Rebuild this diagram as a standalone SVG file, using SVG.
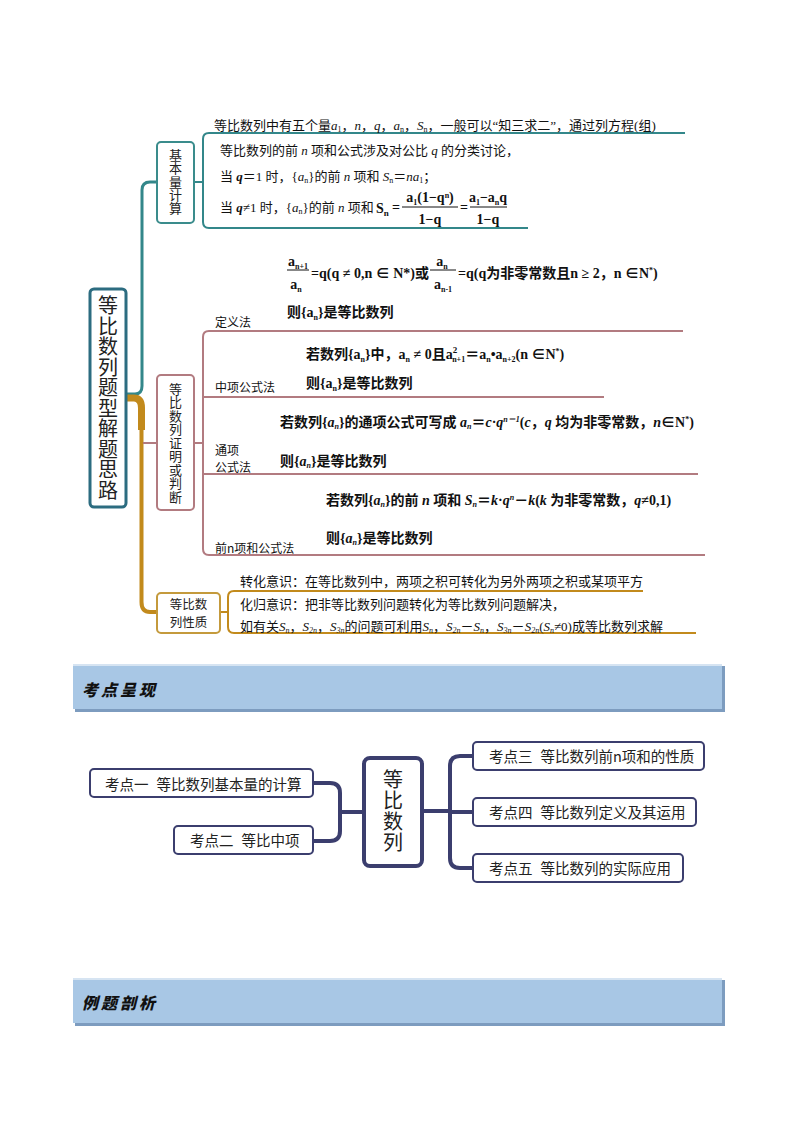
<svg xmlns="http://www.w3.org/2000/svg" width="794" height="1123" viewBox="0 0 794 1123">
<style>
.t{font-family:"Liberation Serif","Noto Sans CJK SC",serif;font-size:13px;fill:#111}
.m{font-family:"Liberation Serif","Noto Sans CJK SC",serif;font-size:14px;font-weight:bold;fill:#111}
.lb{font-family:"Noto Sans CJK SC",sans-serif;font-size:12px;fill:#111}
.bx{font-family:"Noto Sans CJK SC",sans-serif;font-size:12.5px;fill:#222;text-anchor:middle}
.v{writing-mode:vertical-rl;text-anchor:middle;font-family:"Noto Sans CJK SC",sans-serif;fill:#222}
.i{font-style:italic}
.k{font-family:"Noto Sans CJK SC",sans-serif;font-size:14.5px;fill:#222}
.hd{font-family:"Noto Sans CJK SC",sans-serif;font-size:16px;font-weight:900;font-style:italic;letter-spacing:3px;fill:#111}
.teal{fill:none;stroke:#33878a;stroke-width:2}
.mar{fill:none;stroke:#b27b80;stroke-width:2}
.gold{fill:none;stroke:#c28a1c;stroke-width:2}
.navy{fill:none;stroke:#3b3e6e;stroke-width:4}
.nb{fill:#fff;stroke:#3b3e6e;stroke-width:2}
.fr{stroke:#111;stroke-width:1}
</style>

<g id="connectors">
  <path d="M126,394 L135,394 Q142,394 142,386 L142,190 Q142,182 150,182 L157,182" fill="none" stroke="#33878a" stroke-width="3"/>
  <path d="M126,398 L134,398 Q141.5,398 141.5,408 L141.5,430" fill="none" stroke="#c28a1c" stroke-width="7"/>
  <path d="M141.5,410 L141.5,602 Q141.5,612 150,612 L157,612" fill="none" stroke="#c28a1c" stroke-width="4"/>
  <path d="M143,443 L157,443" class="mar"/>
  <path d="M194,182 L203,182" class="teal"/>
  <path d="M685,133 L209,133 Q203,133 203,139 L203,222 Q203,228 209,228 L528,228" class="teal"/>
  <path d="M194,443 L203,443" class="mar"/>
  <path d="M683,331 L209,331 Q203,331 203,337 L203,549 Q203,555 209,555 L705,555" class="mar"/>
  <path d="M203,397 L604,397" class="mar"/>
  <path d="M203,474 L698,474" class="mar"/>
  <path d="M220,612 L228,612" class="gold"/>
  <path d="M643,591 L234,591 Q228,591 228,597 L228,627 Q228,633 234,633 L696,633" class="gold"/>
  <path d="M313,783 L330,783 Q340,783 340,793 L340,831 Q340,841 330,841 L313,841" class="navy"/>
  <path d="M340,812 L363,812" class="navy"/>
  <path d="M423,811 L450,811" class="navy"/>
  <path d="M473,756 L460,756 Q450,756 450,766 L450,858 Q450,868 460,868 L473,868" class="navy"/>
  <path d="M450,812 L473,812" class="navy"/>
</g>

<g id="main">
  <rect x="90" y="289" width="36" height="218" rx="4" fill="#fff" stroke="#2c6c80" stroke-width="3"/>
  <text class="v" x="108" y="398" font-size="20" letter-spacing="0.5">等比数列题型解题思路</text>
</g>

<g id="jibenliang">
  <rect x="157" y="142" width="37" height="81" rx="4" fill="#fff" stroke="#3a8c8c" stroke-width="2"/>
  <text class="v" x="175.5" y="182" font-size="13" letter-spacing="0.3">基本量计算</text>
  <text class="t" x="214" y="130">等比数列中有五个量<tspan class="i">a</tspan><tspan font-size="8" baseline-shift="-2">1</tspan>，<tspan class="i">n</tspan>，<tspan class="i">q</tspan>，<tspan class="i">a</tspan><tspan font-size="8" baseline-shift="-2">n</tspan>，<tspan class="i">S</tspan><tspan font-size="8" baseline-shift="-2">n</tspan>，一般可以“知三求二”，通过列方程(组)</text>
  <text class="t" x="220" y="155">等比数列的前 <tspan class="i">n</tspan> 项和公式涉及对公比 <tspan class="i">q</tspan> 的分类讨论，</text>
  <text class="t" x="220" y="181">当 <tspan class="i" font-weight="bold">q</tspan>＝1 时，{<tspan class="i">a</tspan><tspan font-size="8" baseline-shift="-2">n</tspan>}的前 <tspan class="i">n</tspan> 项和 <tspan class="i">S</tspan><tspan font-size="8" baseline-shift="-2">n</tspan>＝<tspan class="i">na</tspan><tspan font-size="8" baseline-shift="-2">1</tspan>；</text>
  <text class="t" x="220" y="212">当 <tspan class="i" font-weight="bold">q</tspan>≠1 时，{<tspan class="i">a</tspan><tspan font-size="8" baseline-shift="-2">n</tspan>}的前 <tspan class="i">n</tspan> 项和</text>
  <text class="m" x="376" y="213">S<tspan font-size="9" baseline-shift="-3">n</tspan></text>
  <text class="m" x="392" y="212">=</text>
  <text class="m" x="430" y="202" text-anchor="middle" font-size="12">a<tspan font-size="8" baseline-shift="-3">1</tspan>(1−q<tspan font-size="8" baseline-shift="4">n</tspan>)</text>
  <line class="fr" x1="402" y1="207" x2="458" y2="207"/>
  <text class="m" x="430" y="224" text-anchor="middle" font-size="12">1−q</text>
  <text class="m" x="460" y="212">=</text>
  <text class="m" x="488" y="202" text-anchor="middle" font-size="12">a<tspan font-size="8" baseline-shift="-3">1</tspan>−a<tspan font-size="8" baseline-shift="-3">n</tspan>q</text>
  <line class="fr" x1="470" y1="207" x2="507" y2="207"/>
  <text class="m" x="488" y="224" text-anchor="middle" font-size="12">1−q</text>
</g>

<g id="zhengming">
  <rect x="157" y="375" width="37" height="135" rx="4" fill="#fff" stroke="#b27b80" stroke-width="2"/>
  <text class="v" x="175.5" y="443" font-size="13" letter-spacing="0.5">等比数列证明或判断</text>
</g>

<g id="dingyi">
  <text class="lb" x="215" y="327">定义法</text>
  <text class="m" x="298" y="266" text-anchor="middle" font-size="12">a<tspan font-size="8" baseline-shift="-3">n+1</tspan></text>
  <line class="fr" x1="287" y1="270" x2="309" y2="270"/>
  <text class="m" x="296" y="289" text-anchor="middle" font-size="12">a<tspan font-size="8" baseline-shift="-3">n</tspan></text>
  <text class="m" x="311" y="278">=q(q ≠ 0,n ∈ N*)或</text>
  <text class="m" x="442" y="266" text-anchor="middle" font-size="12">a<tspan font-size="8" baseline-shift="-3">n</tspan></text>
  <line class="fr" x1="430" y1="270" x2="456" y2="270"/>
  <text class="m" x="443" y="289" text-anchor="middle" font-size="12">a<tspan font-size="8" baseline-shift="-3">n-1</tspan></text>
  <text class="m" x="458" y="278">=q(q为非零常数且n ≥ 2，n ∈N<tspan font-size="8" baseline-shift="5">*</tspan>)</text>
  <text class="m" x="287" y="317">则{a<tspan font-size="8" baseline-shift="-3">n</tspan>}是等比数列</text>
</g>

<g id="zhongxiang">
  <text class="lb" x="215" y="392">中项公式法</text>
  <text class="m" x="306" y="359">若数列{a<tspan font-size="8" baseline-shift="-3">n</tspan>}中，a<tspan font-size="8" baseline-shift="-3">n</tspan> ≠ 0且a<tspan font-size="9" baseline-shift="6">2</tspan><tspan font-size="8" dx="-5" baseline-shift="-3">n+1</tspan>＝a<tspan font-size="8" baseline-shift="-3">n</tspan>•a<tspan font-size="8" baseline-shift="-3">n+2</tspan>(n ∈N<tspan font-size="8" baseline-shift="5">*</tspan>)</text>
  <text class="m" x="306" y="388">则{a<tspan font-size="8" baseline-shift="-3">n</tspan>}是等比数列</text>
</g>

<g id="tongxiang">
  <text class="lb" x="215" y="455" font-size="11.5">通项</text>
  <text class="lb" x="215" y="472" font-size="11.5">公式法</text>
  <text class="m" x="280" y="427" font-weight="normal">若数列{<tspan class="i">a</tspan><tspan font-size="8" baseline-shift="-2" class="i">n</tspan>}的通项公式可写成 <tspan class="i" font-weight="bold">a</tspan><tspan font-size="8" baseline-shift="-2" class="i">n</tspan>＝<tspan class="i" font-weight="bold">c</tspan>·<tspan class="i" font-weight="bold">q</tspan><tspan font-size="8" baseline-shift="5" class="i">n－1</tspan><tspan font-weight="bold">(<tspan class="i">c</tspan>，<tspan class="i">q</tspan> 均为非零常数，<tspan class="i">n</tspan>∈N<tspan font-size="8" baseline-shift="5">*</tspan>)</tspan></text>
  <text class="m" x="280" y="466" font-weight="normal">则{<tspan class="i">a</tspan><tspan font-size="8" baseline-shift="-2" class="i">n</tspan>}是等比数列</text>
</g>

<g id="qiannhe">
  <text class="lb" x="215" y="553">前n项和公式法</text>
  <text class="m" x="326" y="505" font-weight="normal">若数列{<tspan class="i">a</tspan><tspan font-size="8" baseline-shift="-2" class="i">n</tspan>}的前 <tspan class="i" font-weight="bold">n</tspan> 项和 <tspan class="i" font-weight="bold">S</tspan><tspan font-size="8" baseline-shift="-2" class="i">n</tspan>＝<tspan font-weight="bold"><tspan class="i">k</tspan>·<tspan class="i">q</tspan><tspan font-size="8" baseline-shift="5" class="i">n</tspan>－<tspan class="i">k</tspan>(<tspan class="i">k</tspan> 为非零常数，<tspan class="i">q</tspan>≠0,1)</tspan></text>
  <text class="m" x="326" y="543" font-weight="normal">则{<tspan class="i">a</tspan><tspan font-size="8" baseline-shift="-2" class="i">n</tspan>}是等比数列</text>
</g>

<g id="xingzhi">
  <rect x="157" y="593" width="63" height="40" rx="4" fill="#fff" stroke="#c49a3c" stroke-width="2"/>
  <text class="bx" x="188.5" y="609">等比数</text>
  <text class="bx" x="188.5" y="627">列性质</text>
  <text class="t" x="240" y="586">转化意识：在等比数列中，两项之积可转化为另外两项之积或某项平方</text>
  <text class="t" x="240" y="609">化归意识：把非等比数列问题转化为等比数列问题解决，</text>
  <text class="t" x="240" y="631">如有关<tspan class="i">S</tspan><tspan font-size="8" baseline-shift="-2" class="i">n</tspan>，<tspan class="i">S</tspan><tspan font-size="8" baseline-shift="-2" class="i">2n</tspan>，<tspan class="i">S</tspan><tspan font-size="8" baseline-shift="-2" class="i">3n</tspan>的问题可利用<tspan class="i">S</tspan><tspan font-size="8" baseline-shift="-2" class="i">n</tspan>，<tspan class="i">S</tspan><tspan font-size="8" baseline-shift="-2" class="i">2n</tspan>－<tspan class="i">S</tspan><tspan font-size="8" baseline-shift="-2" class="i">n</tspan>，<tspan class="i">S</tspan><tspan font-size="8" baseline-shift="-2" class="i">3n</tspan>－<tspan class="i">S</tspan><tspan font-size="8" baseline-shift="-2" class="i">2n</tspan>(<tspan class="i">S</tspan><tspan font-size="8" baseline-shift="-2" class="i">n</tspan>≠0)成等比数列求解</text>
</g>

<g id="header1">
  <rect x="75" y="666" width="650" height="46" fill="#7d9cbf"/>
  <rect x="73" y="664" width="649" height="45" fill="#a8c7e5"/>
  <rect x="73" y="664" width="649" height="2" fill="#d6e4f2"/>
  <text class="hd" x="82" y="696">考点呈现</text>
</g>

<g id="center">
  <rect x="364" y="758" width="58" height="108" rx="6" fill="#fff" stroke="#3b3e6e" stroke-width="4"/>
  <text class="v" x="393" y="811" font-size="20" letter-spacing="1">等比数列</text>
</g>
<g id="kd1">
  <rect class="nb" x="90" y="769" width="223" height="28" rx="4"/>
  <text class="k" x="105" y="790">考点一<tspan dx="8">等比数列基本量的计算</tspan></text>
</g>
<g id="kd2">
  <rect class="nb" x="174" y="826" width="139" height="28" rx="4"/>
  <text class="k" x="190" y="846">考点二<tspan dx="8">等比中项</tspan></text>
</g>
<g id="kd3">
  <rect class="nb" x="473" y="742" width="231" height="28" rx="4"/>
  <text class="k" x="489" y="762">考点三<tspan dx="8">等比数列前n项和的性质</tspan></text>
</g>
<g id="kd4">
  <rect class="nb" x="473" y="798" width="223" height="28" rx="4"/>
  <text class="k" x="489" y="818">考点四<tspan dx="8">等比数列定义及其运用</tspan></text>
</g>
<g id="kd5">
  <rect class="nb" x="473" y="854" width="210" height="28" rx="4"/>
  <text class="k" x="489" y="874">考点五<tspan dx="8">等比数列的实际应用</tspan></text>
</g>

<g id="header2">
  <rect x="75" y="980" width="650" height="46" fill="#7d9cbf"/>
  <rect x="73" y="978" width="649" height="45" fill="#a8c7e5"/>
  <rect x="73" y="978" width="649" height="2" fill="#d6e4f2"/>
  <text class="hd" x="82" y="1009">例题剖析</text>
</g>
</svg>
